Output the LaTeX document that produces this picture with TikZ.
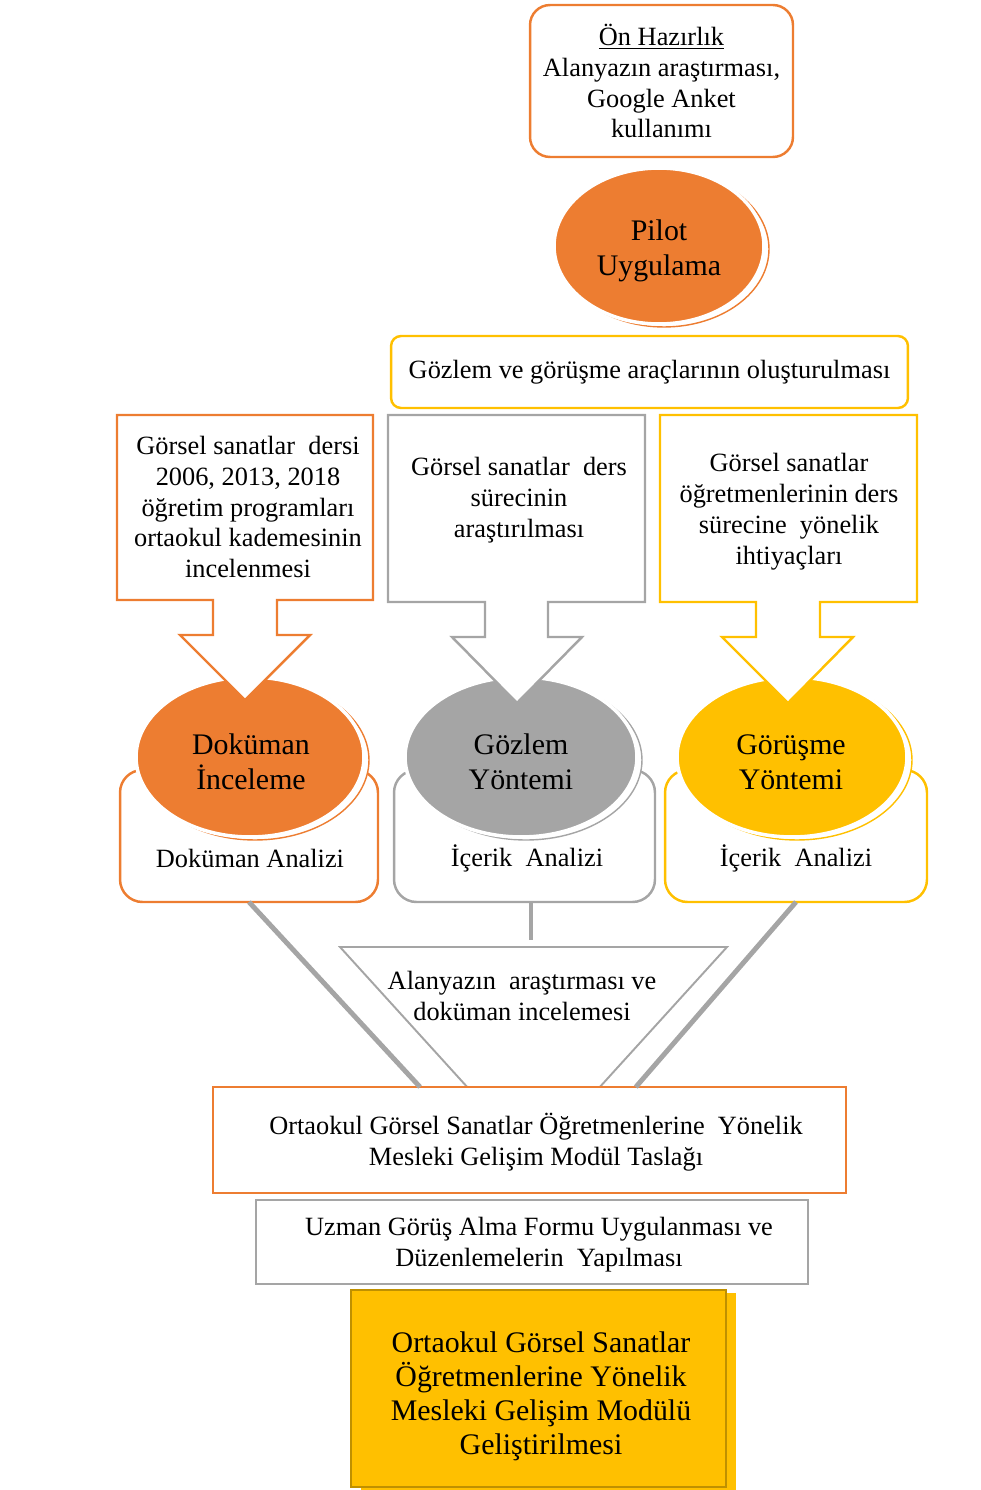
\documentclass[tikz,border=0pt]{standalone}
\usepackage{fontspec}
\setmainfont{Liberation Serif}
\usetikzlibrary{positioning,shapes.geometric,calc}
\definecolor{turuncu}{HTML}{ED7D31}
\definecolor{gri}{HTML}{A5A5A5}
\definecolor{sari}{HTML}{FFC000}
\definecolor{koyusari}{HTML}{BF9000}

\begin{document}
\begin{tikzpicture}[x=0.02cm,y=-0.02cm,every node/.style={outer sep=0pt,align=center},
		metin/.style={font=\fontsize{15}{17.6}\selectfont},
		buyuk/.style={font=\fontsize{17}{20}\selectfont},
		kutu/.style={draw,line width=1.4pt,fill=white,metin},
		oval/.style={ellipse,draw=white,line width=2pt,inner sep=0pt},
		golge/.style={ellipse,fill=white,line width=0.8pt,inner sep=0pt},
		cagri/.style={line width=1.4pt,fill=white},
		baglanti/.style={gri,line width=2.8pt},
		]
		\useasboundingbox (0,0) rectangle (980,1490);

		% on hazirlik ve pilot uygulama
		\node[kutu,draw=turuncu,rounded corners=0.4cm,minimum width=5.26cm,minimum height=3.04cm] (hazirlik) at (661.5,81) {\underline{Ön Hazırlık}\\Alanyazın araştırması,\\Google Anket\\kullanımı};
		\node[golge,draw=turuncu,minimum width=4.2cm,minimum height=3.12cm] (pilotgolge) at (664,249) {};
		\node[oval,fill=turuncu,minimum width=4.2cm,minimum height=3.12cm] (pilot) at (659,246) {};
		\node[buyuk] (pilotyazi) at (659,251) {Pilot\\Uygulama};
		\node[kutu,draw=sari,rounded corners=0.2cm,minimum width=10.34cm,minimum height=1.44cm] (arac) at (649.5,372) {Gözlem ve görüşme araçlarının oluşturulması};

		% analiz kutulari
		\node[kutu,draw=turuncu,rounded corners=0.45cm,minimum width=5.16cm,minimum height=2.64cm] (dokkutu) at (249,836) {};
		\node[kutu,draw=gri,rounded corners=0.45cm,minimum width=5.22cm,minimum height=2.64cm] (gozkutu) at (524.5,836) {};
		\node[kutu,draw=sari,rounded corners=0.45cm,minimum width=5.24cm,minimum height=2.64cm] (gorkutu) at (796,836) {};
		\node[metin] (dokanaliz) at (250,858) {Doküman Analizi};
		\node[metin] (gozanaliz) at (527,858) {İçerik~ Analizi};
		\node[metin] (goranaliz) at (796,858) {İçerik~ Analizi};

		% yontemler
		\node[golge,draw=turuncu,minimum width=4.56cm,minimum height=3.2cm] (dokgolge) at (255,760) {};
		\node[oval,fill=turuncu,minimum width=4.56cm,minimum height=3.2cm] (dok) at (250,757) {};
		\node[buyuk] (dokyazi) at (251,762) {Doküman\\İnceleme};
		\node[golge,draw=gri,minimum width=4.64cm,minimum height=3.2cm] (gozgolge) at (526,760) {};
		\node[oval,fill=gri,minimum width=4.64cm,minimum height=3.2cm] (goz) at (521,757) {};
		\node[buyuk] (gozyazi) at (521,762) {Gözlem\\Yöntemi};
		\node[golge,draw=sari,minimum width=4.6cm,minimum height=3.2cm] (gorgolge) at (797,760) {};
		\node[oval,fill=sari,minimum width=4.6cm,minimum height=3.2cm] (gor) at (792,757) {};
		\node[buyuk] (goryazi) at (791,762) {Görüşme\\Yöntemi};

		% asagi oklu kutular
		\draw[cagri,draw=turuncu] (117,415) -- (373,415) -- (373,600) -- (277,600) -- (277,635) -- (310,635) -- (245,700) -- (180,635) -- (213,635) -- (213,600) -- (117,600) -- cycle;
		\draw[cagri,draw=gri] (388,415) -- (645,415) -- (645,602) -- (548,602) -- (548,637) -- (582,637) -- (517,703) -- (452,637) -- (485,637) -- (485,602) -- (388,602) -- cycle;
		\draw[cagri,draw=sari] (660,415) -- (917,415) -- (917,602) -- (820,602) -- (820,637) -- (853,637) -- (788,703) -- (722,637) -- (756,637) -- (756,602) -- (660,602) -- cycle;
		\node[metin] (dokmetin) at (248,507) {Görsel sanatlar~ dersi\\2006, 2013, 2018\\öğretim programları\\ortaokul kademesinin\\incelenmesi};
		\node[metin] (gozmetin) at (519,500) {Görsel sanatlar~ ders\\sürecinin\\araştırılması};
		\node[metin] (gormetin) at (789,512) {Görsel sanatlar\\öğretmenlerinin ders\\sürecine~ yönelik\\ihtiyaçları};

		% huni
		\coordinate (hunisol) at (340,947);
		\coordinate (hunisag) at (727,947);
		\coordinate (huniuc) at (533.5,1160);
		\coordinate (hunitepe) at (531,940);
		\draw[gri,line width=1.1pt] (hunisol) -- (hunisag) -- (huniuc) -- cycle;
		\node[metin] (huni) at (522,996) {Alanyazın~ araştırması ve\\doküman incelemesi};

		% taslak ve sonuc
		\node[kutu,draw=turuncu,minimum width=12.66cm,minimum height=2.12cm] (taslak) at (529.5,1140) {};
		\node[metin] (taslakyazi) at (536,1142) {Ortaokul Görsel Sanatlar Öğretmenlerine~ Yönelik\\Mesleki Gelişim Modül Taslağı};
		\draw[baglanti] (dokkutu.south) -- ($(taslak.north west)!0.327!(taslak.north east)$);
		\draw[baglanti] (gorkutu.south) -- ($(taslak.north west)!0.668!(taslak.north east)$);
		\draw[baglanti] (gozkutu.south -| hunitepe) -- (hunitepe);
		\node[kutu,draw=gri,line width=1.6pt,minimum width=11.04cm,minimum height=1.68cm] (uzman) at (532,1242) {};
		\node[metin] (uzmanyazi) at (539,1245) {Uzman Görüş Alma Formu Uygulanması ve\\Düzenlemelerin~ Yapılması};
		\node[fill=sari,minimum width=7.5cm,minimum height=3.94cm] (modulgolge) at (548.5,1391.5) {};
		\node[draw=koyusari,fill=sari,line width=1.4pt,minimum width=7.5cm,minimum height=3.94cm] (modul) at (538.5,1388.5) {};
		\node[font=\fontsize{17}{19.4}\selectfont] (modulyazi) at (541,1396) {Ortaokul Görsel Sanatlar\\Öğretmenlerine Yönelik\\Mesleki Gelişim Modülü\\Geliştirilmesi};
\end{tikzpicture}
\end{document}
